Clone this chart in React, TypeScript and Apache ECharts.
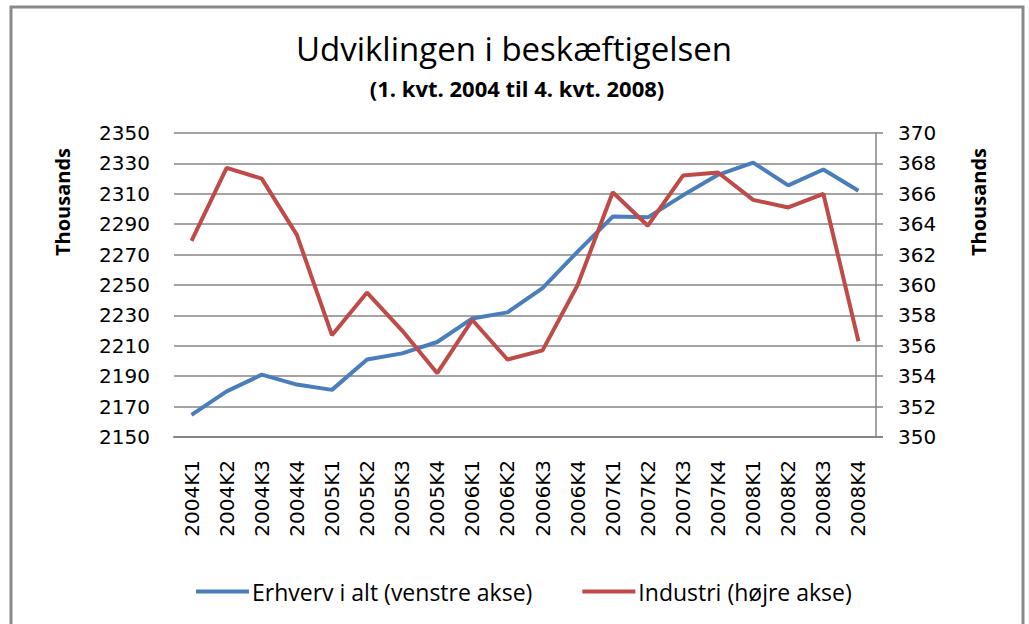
import React, { useEffect, useRef } from "react";
import * as echarts from "echarts";

const categories = [
  "2004K1", "2004K2", "2004K3", "2004K4",
  "2005K1", "2005K2", "2005K3", "2005K4",
  "2006K1", "2006K2", "2006K3", "2006K4",
  "2007K1", "2007K2", "2007K3", "2007K4",
  "2008K1", "2008K2", "2008K3", "2008K4",
];

const erhvervIAlt = [
  2164.5, 2180, 2191, 2184.5, 2181, 2201, 2205, 2212.5, 2228, 2232,
  2248, 2272, 2295, 2294.5, 2309, 2322.5, 2330.5, 2315.5, 2326, 2312,
];

const industri = [
  362.9, 367.7, 367.0, 363.3, 356.7, 359.5, 357.0, 354.2, 357.7, 355.1,
  355.7, 360.0, 366.1, 363.9, 367.2, 367.4, 365.6, 365.1, 366.0, 356.3,
];

const seriesNames = ["Erhverv i alt (venstre akse)", "Industri (højre akse)"];
const titleText = "Udviklingen i beskæftigelsen";
const subtitleText = "(1. kvt. 2004 til 4. kvt. 2008)";
const axisUnit = "Thousands";

const narrowFont = "'Open Sans', sans-serif";
const tickFont = "'DejaVu Sans', sans-serif";

export default function App() {
  const ref = useRef<HTMLDivElement>(null);

  useEffect(() => {
    if (!ref.current) return;
    const chart = echarts.init(ref.current, undefined, { renderer: "svg" });
    const gridLeft = 174;
    const gridRight = 876;
    const gridTop = 133;
    const gridBottom = 437;
    chart.setOption({
      animation: false,
      backgroundColor: "#ffffff",
      grid: {
        left: gridLeft,
        right: 1029 - gridRight,
        top: gridTop,
        bottom: 624 - gridBottom,
        containLabel: false,
      },
      graphic: [
        {
          type: "rect",
          shape: { x: 11, y: 7, width: 1012, height: 640 },
          style: { fill: "none", stroke: "#8a8a8a", lineWidth: 3 },
          silent: true,
        },
        {
          type: "text",
          x: 514,
          y: 48,
          style: {
            text: titleText,
            font: `33px ${narrowFont}`,
            fill: "#000",
            align: "center",
            verticalAlign: "middle",
          },
        },
        {
          type: "text",
          x: 517,
          y: 88,
          style: {
            text: subtitleText,
            font: `bold 22px ${narrowFont}`,
            fill: "#000",
            align: "center",
            verticalAlign: "middle",
          },
        },
        {
          type: "text",
          x: 62,
          y: 202,
          rotation: Math.PI / 2,
          style: {
            text: axisUnit,
            font: `bold 20px ${narrowFont}`,
            fill: "#000",
            align: "center",
            verticalAlign: "middle",
          },
        },
        {
          type: "text",
          x: 978,
          y: 202,
          rotation: Math.PI / 2,
          style: {
            text: axisUnit,
            font: `bold 20px ${narrowFont}`,
            fill: "#000",
            align: "center",
            verticalAlign: "middle",
          },
        },
        {
          type: "line",
          shape: { x1: gridRight, y1: gridBottom, x2: gridRight + 7, y2: gridBottom },
          style: { stroke: "#868686", lineWidth: 2 },
        },
      ],
      legend: {
        left: 191,
        top: 575,
        itemGap: 50,
        itemWidth: 53,
        itemHeight: 4,
        icon: "rect",
        textStyle: {
          fontFamily: narrowFont,
          fontSize: 23,
          color: "#000",
          padding: [0, 0, 0, -2],
        },
        data: seriesNames,
      },
      xAxis: {
        type: "category",
        data: categories,
        boundaryGap: true,
        axisLine: { show: true, lineStyle: { color: "#868686", width: 2 } },
        axisTick: { show: false },
        axisLabel: {
          rotate: 90,
          interval: 0,
          margin: 23,
          fontFamily: tickFont,
          fontSize: 20,
          color: "#000",
        },
      },
      yAxis: [
        {
          type: "value",
          min: 2150,
          max: 2350,
          interval: 20,
          axisLine: { show: false },
          axisTick: { show: false },
          splitLine: { show: true, lineStyle: { color: "#868686", width: 1.5 } },
          axisLabel: {
            margin: 24,
            fontFamily: tickFont,
            fontSize: 20,
            color: "#000",
            formatter: (v: number) => String(v),
          },
        },
        {
          type: "value",
          min: 350,
          max: 370,
          interval: 2,
          position: "right",
          axisLine: { show: true, lineStyle: { color: "#868686", width: 1.5 } },
          axisTick: { show: true, length: 7, lineStyle: { color: "#868686", width: 1.5 } },
          splitLine: { show: false },
          axisLabel: {
            margin: 22,
            fontFamily: tickFont,
            fontSize: 20,
            color: "#000",
            formatter: (v: number) => String(v),
          },
        },
      ],
      series: [
        {
          name: seriesNames[0],
          type: "line",
          yAxisIndex: 0,
          data: erhvervIAlt,
          symbol: "none",
          lineStyle: { color: "#4a7ebb", width: 4 },
          itemStyle: { color: "#4a7ebb" },
          z: 3,
        },
        {
          name: seriesNames[1],
          type: "line",
          yAxisIndex: 1,
          data: industri,
          symbol: "none",
          lineStyle: { color: "#be4b48", width: 4 },
          itemStyle: { color: "#be4b48" },
          z: 4,
        },
      ],
    });
    return () => chart.dispose();
  }, []);

  return (
    <div
      ref={ref}
      style={{ position: "fixed", left: 0, top: 0, width: 1029, height: 624 }}
    />
  );
}
